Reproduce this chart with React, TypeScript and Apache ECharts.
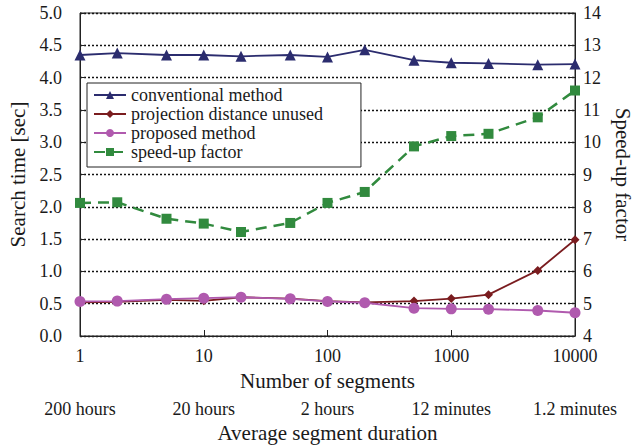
import React, { useEffect, useRef } from "react";
import * as echarts from "echarts";

// Number of segments (log-scaled x positions)
const segments = [1, 2, 5, 10, 20, 50, 100, 200, 500, 1000, 2000, 5000, 10000];

// Search time [sec]
const conventional = [4.35, 4.38, 4.35, 4.35, 4.33, 4.35, 4.32, 4.43, 4.27, 4.23, 4.22, 4.2, 4.21];
const projectionUnused = [0.52, 0.53, 0.56, 0.545, 0.6, 0.58, 0.54, 0.52, 0.54, 0.58, 0.64, 1.015, 1.49];
const proposed = [0.535, 0.54, 0.57, 0.585, 0.6, 0.575, 0.535, 0.515, 0.43, 0.42, 0.415, 0.395, 0.36];

// Speed-up factor (right axis)
const speedUp = [8.12, 8.14, 7.63, 7.48, 7.22, 7.5, 8.12, 8.46, 9.87, 10.19, 10.26, 10.77, 11.6];

// Secondary tick labels: average segment duration per number of segments
const durationTicks: Record<number, string> = {
  1: "200 hours",
  10: "20 hours",
  100: "2 hours",
  1000: "12 minutes",
  10000: "1.2 minutes",
};

const FONT = "Times New Roman";
const TEXT = "#1a1a1a";

const pairs = (ys: number[]) => segments.map((x, i) => [x, ys[i]]);

export default function App() {
  const ref = useRef<HTMLDivElement>(null);

  useEffect(() => {
    if (!ref.current) return;
    const chart = echarts.init(ref.current, undefined, { renderer: "svg" });

    const labelStyle = { fontFamily: FONT, fontSize: 18, color: TEXT };
    const nameStyle = { fontFamily: FONT, fontSize: 21, color: TEXT };

    chart.setOption({
      animation: false,
      grid: {
        left: 80,
        right: 63,
        top: 13,
        bottom: 109,
        outerBoundsMode: "none",
        show: true,
        borderColor: "#222",
        borderWidth: 1,
        backgroundColor: "transparent",
      },
      legend: {
        orient: "vertical",
        left: 87,
        top: 83,
        backgroundColor: "#ffffff",
        borderColor: "#222",
        borderWidth: 1,
        borderRadius: 0,
        padding: [3, 38, 6, 6],
        itemGap: 1,
        itemWidth: 32,
        itemHeight: 10,
        textStyle: { fontFamily: FONT, fontSize: 18, color: TEXT },
        data: [
          "conventional method",
          "projection distance unused",
          "proposed method",
          "speed-up factor",
        ],
      },
      xAxis: [
        {
          type: "log",
          logBase: 10,
          min: 1,
          max: 10000,
          position: "bottom",
          name: "Number of segments",
          nameLocation: "middle",
          nameGap: 34,
          nameTextStyle: nameStyle,
          axisLine: { show: true, lineStyle: { color: "#222", width: 1 } },
          axisTick: { show: true, inside: true, length: 6, lineStyle: { color: "#222" } },
          minorTick: { show: false },
          axisLabel: {
            ...labelStyle,
            margin: 11,
            formatter: (v: number) => String(Math.round(v)),
          },
          splitLine: { show: false },
        },
        {
          type: "log",
          logBase: 10,
          min: 1,
          max: 10000,
          position: "bottom",
          offset: 53,
          name: "Average segment duration",
          nameLocation: "middle",
          nameGap: 32,
          nameTextStyle: nameStyle,
          axisLine: { show: false },
          axisTick: { show: false },
          axisLabel: {
            ...labelStyle,
            margin: 11,
            formatter: (v: number) => durationTicks[Math.round(v)] ?? "",
          },
          splitLine: { show: false },
        },
      ],
      yAxis: [
        {
          type: "value",
          min: 0,
          max: 5,
          interval: 0.5,
          position: "left",
          name: "Search time [sec]",
          nameLocation: "middle",
          nameGap: 51,
          nameTextStyle: nameStyle,
          axisLine: { show: true, lineStyle: { color: "#222", width: 1 } },
          axisTick: { show: true, inside: true, length: 5, lineStyle: { color: "#222" } },
          axisLabel: { ...labelStyle, margin: 18, formatter: (v: number) => v.toFixed(1) },
          splitLine: {
            show: true,
            lineStyle: { color: "#111", type: [2, 2], width: 1.3 },
          },
        },
        {
          type: "value",
          min: 4,
          max: 14,
          interval: 1,
          position: "right",
          name: "Speed-up factor",
          nameLocation: "middle",
          nameRotate: -90,
          nameGap: 37,
          nameTextStyle: nameStyle,
          axisLine: { show: true, lineStyle: { color: "#222", width: 1 } },
          axisTick: { show: true, inside: true, length: 5, lineStyle: { color: "#222" } },
          axisLabel: { ...labelStyle, margin: 8 },
          splitLine: { show: false },
        },
      ],
      series: [
        {
          name: "conventional method",
          type: "line",
          xAxisIndex: 0,
          yAxisIndex: 0,
          data: pairs(conventional),
          symbol: "triangle",
          symbolSize: 11,
          color: "#2b2c6e",
          lineStyle: { width: 1.8, color: "#2b2c6e" },
          itemStyle: { color: "#2b2c6e" },
        },
        {
          name: "projection distance unused",
          type: "line",
          xAxisIndex: 0,
          yAxisIndex: 0,
          data: pairs(projectionUnused),
          symbol: "diamond",
          symbolSize: 9,
          color: "#7a1c1f",
          lineStyle: { width: 1.8, color: "#7a1c1f" },
          itemStyle: { color: "#7a1c1f" },
        },
        {
          name: "proposed method",
          type: "line",
          xAxisIndex: 0,
          yAxisIndex: 0,
          data: pairs(proposed),
          symbol: "circle",
          symbolSize: 11,
          color: "#b05aae",
          lineStyle: { width: 1.8, color: "#b05aae" },
          itemStyle: { color: "#b05aae" },
        },
        {
          name: "speed-up factor",
          type: "line",
          xAxisIndex: 0,
          yAxisIndex: 1,
          data: pairs(speedUp),
          symbol: "rect",
          symbolSize: 10,
          color: "#318a3e",
          lineStyle: { width: 2.5, color: "#318a3e", type: [11, 7] },
          itemStyle: { color: "#318a3e" },
        },
      ],
    });

    return () => chart.dispose();
  }, []);

  return (
    <div
      ref={ref}
      style={{ position: "fixed", left: 0, top: 0, width: 638, height: 445, background: "#fff" }}
    />
  );
}
